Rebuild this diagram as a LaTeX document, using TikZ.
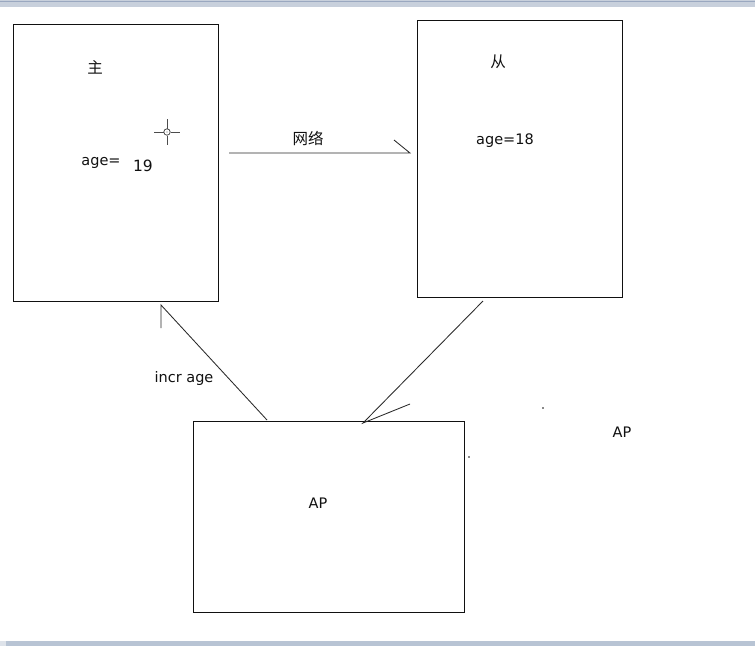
\documentclass[tikz,border=0pt]{standalone}
\usepackage{fontspec}
\setmainfont{DejaVu Sans}
\newfontfamily\cjk{Noto Sans CJK SC}
\definecolor{barA}{HTML}{C8D0DC}
\definecolor{barB}{HTML}{9AA8C0}
\definecolor{barC}{HTML}{B8C4D4}
\definecolor{ink}{HTML}{111111}
\tikzset{
  boxA/.style={draw=ink, line width=1.1pt},
  conn/.style={draw=ink!90, line width=0.85pt},
  lbl/.style={text=ink, inner sep=0pt, font=\fontsize{14.5}{16}\selectfont},
  cjklbl/.style={text=ink, inner sep=0pt, font=\cjk\fontsize{15.5}{17}\selectfont},
}
\begin{document}
\begin{tikzpicture}[x=1pt,y=-1pt]
\useasboundingbox (0,0) rectangle (755,646);
\fill[white] (0,0) rectangle (755,646);
% window bars
\fill[barA] (0,0) rectangle (755,7);
\draw[barB, line width=1pt] (0,1.5) -- (755,1.5);
\fill[barC] (0,641) rectangle (755,646);
\fill[barA!60] (0,641) rectangle (6,646);
% boxes
\node[boxA, minimum width=205pt, minimum height=277pt, anchor=north west, inner sep=0pt] (master) at (13,24) {};
\node[boxA, minimum width=205pt, minimum height=277pt, anchor=north west, inner sep=0pt] (slave) at (417,20) {};
\node[boxA, minimum width=271pt, minimum height=191pt, anchor=north west, inner sep=0pt] (ap) at (193,421) {};
% texts
\node[cjklbl] (zhu) at (95,67) {主};
\node[lbl] (agem) at (101,163) {age=};
\node[lbl, font=\fontsize{15.5}{17}\selectfont] (v19) at (143,165.5) {19};
\node[cjklbl] (cong) at (498,62) {从};
\node[lbl] (ages) at (505,141) {age=18};
\node[cjklbl] (net) at (308,138) {网络};
\node[lbl] (incr) at (184,378) {incr age};
\node[lbl] (ap1) at (318,503) {AP};
\node[lbl] (ap2) at (622,432) {AP};
% crosshair
\coordinate (ch) at (167,132);
\draw[ink!75, line width=1pt] (154,132) -- (163.5,132) (170.5,132) -- (180,132)
  (167,119) -- (167,128.5) (167,135.5) -- (167,145);
\draw[ink!75, line width=0.8pt] (ch) circle (3.2pt);
\fill[ink!60] (ch) circle (0.6pt);
% connectors
\coordinate (n1) at (229,153);
\coordinate (n2) at (410,153);
\coordinate (n3) at (394,140);
\draw[conn] (n1) -- (n2) -- (n3);
\coordinate (i1) at (267,420);
\coordinate (i2) at (161,305);
\coordinate (i3) at (161,328);
\draw[conn] (i1) -- (i2) -- (i3);
\coordinate (s1) at (483,301);
\coordinate (s2) at (363,423);
\coordinate (s3) at (410,404);
\draw[conn] (s1) -- (s2) -- (s3);
% stray dots
\fill[ink] (543,408) circle (0.8pt);
\fill[ink] (469,457) circle (0.8pt);
\end{tikzpicture}
\end{document}
